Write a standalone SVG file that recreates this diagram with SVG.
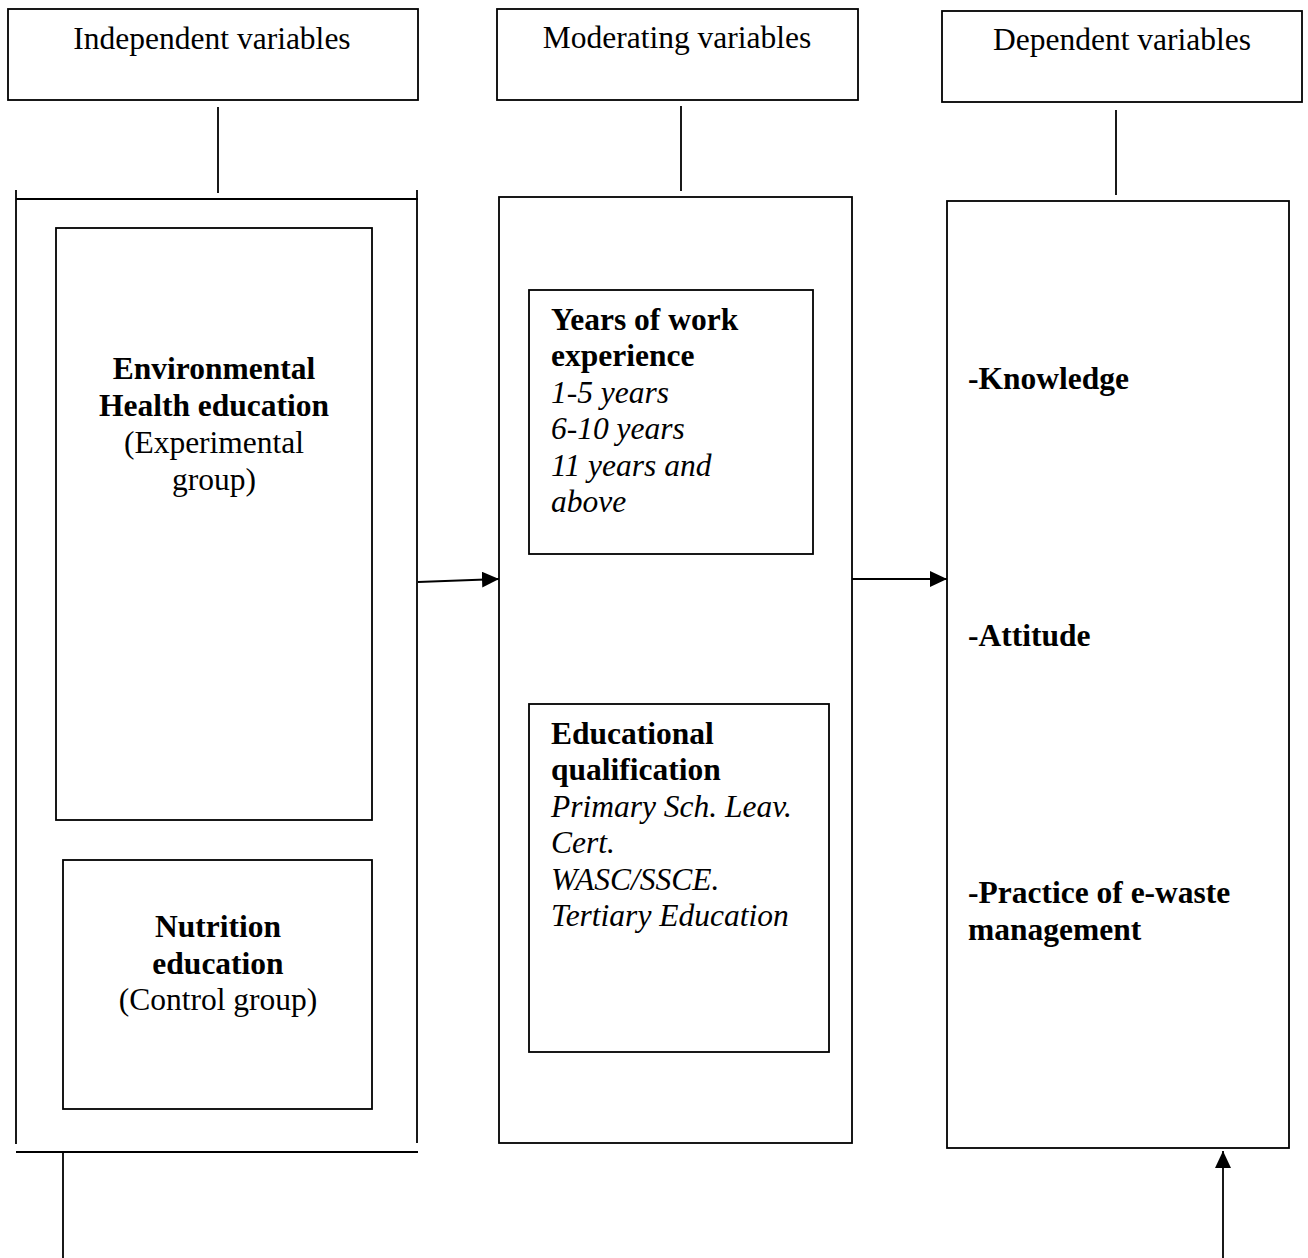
<svg xmlns="http://www.w3.org/2000/svg" width="1308" height="1258" viewBox="0 0 1308 1258">
<style>
.box{fill:none;stroke:#000;stroke-width:1.8}
.ln{stroke:#000;stroke-width:1.8;fill:none}
text{font-family:"Liberation Serif","Times New Roman",serif;font-size:31.5px;fill:#000}
.c{text-anchor:middle}
.b{font-weight:bold}
.i{font-style:italic}
</style>
<defs>
<marker id="ah" viewBox="0 0 17 16" refX="17" refY="8" markerWidth="17" markerHeight="16" markerUnits="userSpaceOnUse" orient="auto">
<path d="M0,0 L17,8 L0,16 Z" fill="#000"/>
</marker>
</defs>
<rect width="1308" height="1258" fill="#fff"/>

<g id="hdr-independent">
<rect class="box" x="8" y="9" width="410" height="91"/>
<text class="c" x="212" y="49">Independent variables</text>
</g>
<g id="hdr-moderating">
<rect class="box" x="497" y="9" width="361" height="91"/>
<text class="c" x="677" y="48">Moderating variables</text>
</g>
<g id="hdr-dependent">
<rect class="box" x="942" y="11" width="360" height="91"/>
<text class="c" x="1122" y="50">Dependent variables</text>
</g>

<g id="panel-independent">
<line class="ln" x1="16" y1="199" x2="418" y2="199"/>
<line class="ln" x1="16" y1="190" x2="16" y2="1144"/>
<line class="ln" x1="417" y1="190" x2="417" y2="1143"/>
<line class="ln" x1="16" y1="1152" x2="418" y2="1152"/>
</g>
<g id="env-health">
<rect class="box" x="56" y="228" width="316" height="592"/>
<text class="c b" x="214" y="379">Environmental</text>
<text class="c b" x="214" y="416">Health education</text>
<text class="c" x="214" y="453">(Experimental</text>
<text class="c" x="214" y="490">group)</text>
</g>
<g id="nutrition">
<rect class="box" x="63" y="860" width="309" height="249"/>
<text class="c b" x="218" y="937">Nutrition</text>
<text class="c b" x="218" y="974">education</text>
<text class="c" x="218" y="1010">(Control group)</text>
</g>

<g id="panel-moderating">
<rect class="box" x="499" y="197" width="353" height="946"/>
</g>
<g id="years">
<rect class="box" x="529" y="290" width="284" height="264"/>
<text class="b" x="551" y="330">Years of work</text>
<text class="b" x="551" y="366">experience</text>
<text class="i" x="551" y="403">1-5 years</text>
<text class="i" x="551" y="439">6-10 years</text>
<text class="i" x="551" y="476">11 years and</text>
<text class="i" x="551" y="512">above</text>
</g>
<g id="qualification">
<rect class="box" x="529" y="704" width="300" height="348"/>
<text class="b" x="551" y="744">Educational</text>
<text class="b" x="551" y="780">qualification</text>
<text class="i" x="551" y="817">Primary Sch. Leav.</text>
<text class="i" x="551" y="853">Cert.</text>
<text class="i" x="551" y="890">WASC/SSCE.</text>
<text class="i" x="551" y="926">Tertiary Education</text>
</g>

<g id="panel-dependent">
<rect class="box" x="947" y="201" width="342" height="947"/>
<text class="b" x="968" y="389">-Knowledge</text>
<text class="b" x="968" y="646">-Attitude</text>
<text class="b" x="968" y="903">-Practice of e-waste</text>
<text class="b" x="968" y="940">management</text>
</g>

<g id="connectors">
<line class="ln" x1="218" y1="107" x2="218" y2="193"/>
<line class="ln" x1="681" y1="106" x2="681" y2="191"/>
<line class="ln" x1="1116" y1="110" x2="1116" y2="195"/>
<line class="ln" x1="63" y1="1152" x2="63" y2="1258"/>
<line class="ln" x1="418" y1="582" x2="499" y2="579" marker-end="url(#ah)"/>
<line class="ln" x1="852" y1="579" x2="947" y2="579" marker-end="url(#ah)"/>
<line class="ln" x1="1223" y1="1258" x2="1223" y2="1151" marker-end="url(#ah)"/>
</g>
</svg>
